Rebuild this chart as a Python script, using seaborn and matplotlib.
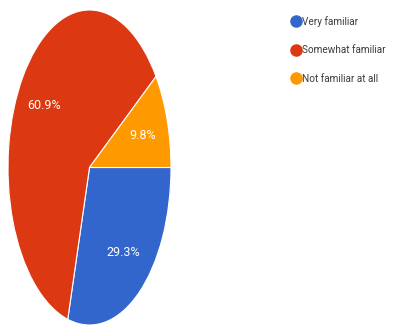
#!/usr/bin/env python3
"""Familiarity survey pie chart (Google Forms style)."""

import matplotlib
matplotlib.use("Agg")
import seaborn as sns
from matplotlib import pyplot as plt
from matplotlib.lines import Line2D

categories = ["Very familiar", "Somewhat familiar", "Not familiar at all"]
shares = [29.3, 60.9, 9.8]
colors = ["#3366CC", "#DC3912", "#FF9900"]

sns.set_theme(style="white")
plt.rcParams["font.family"] = ["Roboto", "DejaVu Sans"]

W, H = 393, 329
fig = plt.figure(figsize=(W / 100, H / 100), dpi=100)
fig.patch.set_facecolor("white")

# pie is drawn squashed into a tall ellipse, like the screenshot
ax = fig.add_axes([8 / W, 4 / H, 163 / W, 315 / H])
wedges, _, autotexts = ax.pie(
    shares,
    colors=colors,
    startangle=0,
    counterclock=False,
    autopct="%.1f%%",
    pctdistance=0.68,
    radius=1.0,
    wedgeprops=dict(edgecolor="white", linewidth=0.8),
    textprops=dict(color="white", fontsize=9),
)
ax.set_aspect("auto")
ax.set_xlim(-1.0, 1.0)
ax.set_ylim(-1.0, 1.0)
ax.axis("off")

handles = [
    Line2D([0], [0], marker="o", linestyle="none", markersize=8,
           markerfacecolor=c, markeredgecolor=c)
    for c in colors
]
fig.legend(
    handles,
    categories,
    loc="upper left",
    bbox_to_anchor=(281 / W, 1 - 7 / H),
    frameon=False,
    fontsize=7.2,
    labelspacing=1.85,
    handletextpad=0.0,
    handlelength=1.2,
    labelcolor="#3c3c3c",
)

fig.savefig("out.png", dpi=100)
